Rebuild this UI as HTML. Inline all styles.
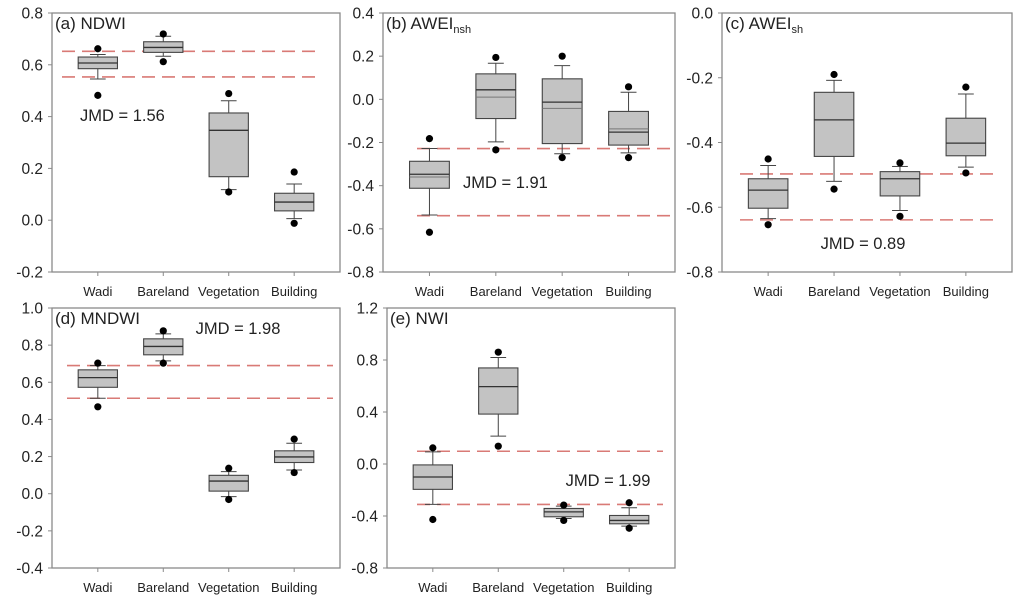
<!DOCTYPE html>
<html><head><meta charset="utf-8"><style>
body{margin:0;background:#fff;}
svg{display:block;font-family:"Liberation Sans",sans-serif;}
</style></head><body>
<svg id="fig" width="1024" height="609" viewBox="0 0 1024 609"></svg>
<script>
const categories = ["Wadi","Bareland","Vegetation","Building"];
// per panel: [q1, median, q3, whiskerLow, whiskerHigh, outlierLow, outlierHigh]
const ndwiStats = [[0.585,0.607,0.63,0.545,0.64,0.482,0.662],[0.648,0.667,0.689,0.633,0.71,0.612,0.719],[0.168,0.347,0.414,0.118,0.461,0.109,0.489],[0.036,0.07,0.104,0.006,0.14,-0.012,0.186]];
const aweiNshStats = [[-0.412,-0.347,-0.287,-0.536,-0.228,-0.616,-0.182],[-0.089,0.044,0.118,-0.197,0.167,-0.234,0.194],[-0.205,-0.013,0.095,-0.252,0.156,-0.27,0.2],[-0.212,-0.152,-0.056,-0.248,0.033,-0.27,0.058]];
const aweiNshMeans = [-0.36,0.01,-0.042,-0.137];
const aweiShStats = [[-0.603,-0.547,-0.512,-0.635,-0.471,-0.654,-0.451],[-0.443,-0.33,-0.245,-0.52,-0.208,-0.544,-0.19],[-0.565,-0.512,-0.49,-0.61,-0.474,-0.628,-0.463],[-0.441,-0.402,-0.325,-0.476,-0.25,-0.494,-0.229]];
const mndwiStats = [[0.573,0.625,0.667,0.514,0.69,0.468,0.703],[0.748,0.793,0.834,0.715,0.861,0.703,0.877],[0.014,0.068,0.099,-0.016,0.119,-0.031,0.137],[0.168,0.198,0.231,0.128,0.272,0.114,0.294]];
const nwiStats = [[-0.195,-0.1,-0.007,-0.311,0.093,-0.427,0.124],[0.384,0.595,0.739,0.214,0.819,0.137,0.86],[-0.406,-0.368,-0.342,-0.419,-0.324,-0.434,-0.316],[-0.46,-0.434,-0.396,-0.478,-0.337,-0.494,-0.298]];
const ndwiTicks = [0.8,0.6,0.4,0.2,0.0,-0.2];
const aweiNshTicks = [0.4,0.2,0.0,-0.2,-0.4,-0.6,-0.8];
const aweiShTicks = [0.0,-0.2,-0.4,-0.6,-0.8];
const mndwiTicks = [1.0,0.8,0.6,0.4,0.2,0.0,-0.2,-0.4];
const nwiTicks = [1.2,0.8,0.4,0.0,-0.4,-0.8];
const ndwiThresholds = [0.652,0.553];
const aweiNshThresholds = [-0.228,-0.539];
const aweiShThresholds = [-0.497,-0.639];
const mndwiThresholds = [0.69,0.514];
const nwiThresholds = [0.098,-0.311];
const jmdLabels = ["JMD = 1.56","JMD = 1.91","JMD = 0.89","JMD = 1.98","JMD = 1.99"];

const NS="http://www.w3.org/2000/svg";
const svg=document.getElementById('fig');
function mk(tag,attrs,parent){const e=document.createElementNS(NS,tag);for(const k in attrs)e.setAttribute(k,attrs[k]);(parent||svg).appendChild(e);return e;}

const panels=[
 {id:'a',title:'(a) NDWI',sub:'',x0:52,x1:340,y0:13,y1:272,ticks:ndwiTicks,stats:ndwiStats,means:null,th:ndwiThresholds,dx:[62,318],jmd:jmdLabels[0],jx:80,jy:121,ja:'start'},
 {id:'b',title:'(b) AWEI',sub:'nsh',x0:383,x1:675,y0:13,y1:272,ticks:aweiNshTicks,stats:aweiNshStats,means:aweiNshMeans,th:aweiNshThresholds,dx:[417,673],jmd:jmdLabels[1],jx:463,jy:188,ja:'start'},
 {id:'c',title:'(c) AWEI',sub:'sh',x0:722,x1:1012,y0:13,y1:272,ticks:aweiShTicks,stats:aweiShStats,means:null,th:aweiShThresholds,dx:[740,997],jmd:jmdLabels[2],jx:863,jy:249,ja:'middle'},
 {id:'d',title:'(d) MNDWI',sub:'',x0:52,x1:340,y0:308,y1:568,ticks:mndwiTicks,stats:mndwiStats,means:null,th:mndwiThresholds,dx:[67,333],jmd:jmdLabels[3],jx:238,jy:334,ja:'middle'},
 {id:'e',title:'(e) NWI',sub:'',x0:387,x1:675,y0:308,y1:568,ticks:nwiTicks,stats:nwiStats,means:null,th:nwiThresholds,dx:[417,663],jmd:jmdLabels[4],jx:608,jy:486,ja:'middle'}
];

panels.forEach(p=>{
 const g=mk('g',{});
 
 
 const vmax=p.ticks[0],vmin=p.ticks[p.ticks.length-1];
 const y=v=>p.y0+(vmax-v)/(vmax-vmin)*(p.y1-p.y0);
 const band=(p.x1-p.x0)/4.4;
 const xc=i=>p.x0+band*(0.7+i);
 const fr=mk('rect',{x:p.x0,y:p.y0,width:p.x1-p.x0,height:p.y1-p.y0,fill:'none',stroke:'#8a8a8a','stroke-width':1.3},g);
 
 
 p.ticks.forEach(t=>{
  mk('line',{x1:p.x0-4,x2:p.x0,y1:y(t),y2:y(t),stroke:'#8a8a8a'},g);
  const tl=mk('text',{x:p.x0-9,y:y(t)+5.5,'text-anchor':'end','font-size':15.5,fill:'#222'},g);
  tl.textContent=t.toFixed(1);
  
  
 });
 categories.forEach((c,i)=>{
  mk('line',{x1:xc(i),x2:xc(i),y1:p.y1,y2:p.y1+4,stroke:'#8a8a8a'},g);
  const xl=mk('text',{x:xc(i),y:p.y1+24,'text-anchor':'middle','font-size':13,fill:'#222'},g);
  xl.textContent=c;
  
  
 });
 p.th.forEach(v=>{
  const l=mk('line',{x1:p.dx[0],x2:p.dx[1],y1:y(v),y2:y(v),stroke:'#d97a76','stroke-width':1.6,'stroke-dasharray':'13,7'},g);
  
  
 });
 p.stats.forEach((s,i)=>{
  const cx=xc(i),hw=band*0.3,cw=band*0.12;
  const bg=mk('g',{},g);
  
  
  mk('line',{x1:cx,x2:cx,y1:y(s[4]),y2:y(s[2]),stroke:'#444'},bg);
  mk('line',{x1:cx,x2:cx,y1:y(s[0]),y2:y(s[3]),stroke:'#444'},bg);
  mk('line',{x1:cx-cw,x2:cx+cw,y1:y(s[4]),y2:y(s[4]),stroke:'#444'},bg);
  mk('line',{x1:cx-cw,x2:cx+cw,y1:y(s[3]),y2:y(s[3]),stroke:'#444'},bg);
  mk('rect',{x:cx-hw,y:y(s[2]),width:2*hw,height:y(s[0])-y(s[2]),fill:'#c3c3c3',stroke:'#444','stroke-width':1.1},bg);
  mk('line',{x1:cx-hw,x2:cx+hw,y1:y(s[1]),y2:y(s[1]),stroke:'#333','stroke-width':1.3},bg);
  if(p.means) mk('line',{x1:cx-hw,x2:cx+hw,y1:y(p.means[i]),y2:y(p.means[i]),stroke:'#777','stroke-width':1},bg);
  mk('circle',{cx:cx,cy:y(s[5]),r:3.6,fill:'#000'},bg);
  mk('circle',{cx:cx,cy:y(s[6]),r:3.6,fill:'#000'},bg);
 });
 const tt=mk('text',{x:p.x0+3,y:p.y0+16,'font-size':17,fill:'#222'},g);
 tt.textContent=p.title;
 if(p.sub){const ts=mk('tspan',{'font-size':11,dy:4},tt);ts.textContent=p.sub;}
 
 
 const jt=mk('text',{x:p.jx,y:p.jy,'text-anchor':p.ja,'font-size':16.5,fill:'#222'},g);
 jt.textContent=p.jmd;
 
 
});
</script>
</body></html>
